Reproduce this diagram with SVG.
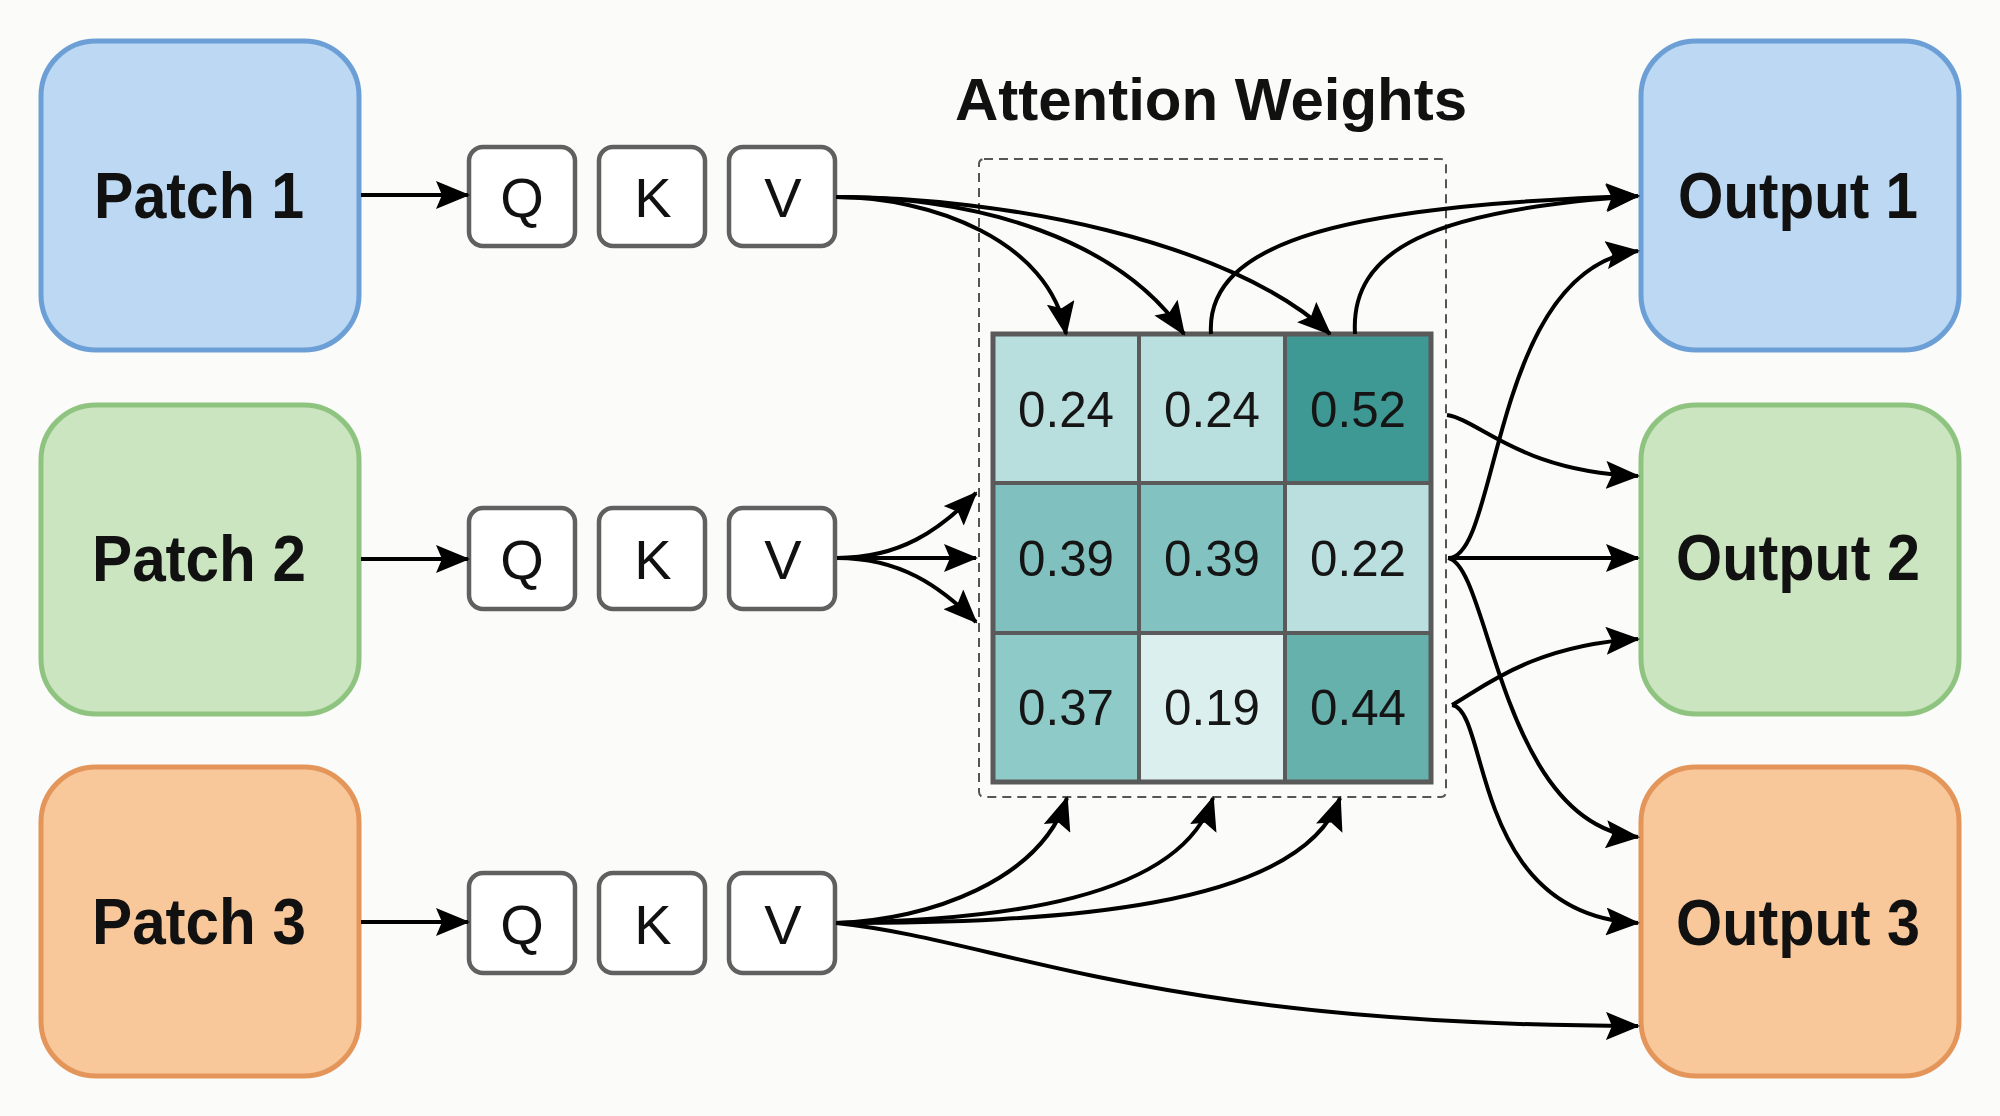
<svg xmlns="http://www.w3.org/2000/svg" width="2000" height="1116" viewBox="0 0 2000 1116">
<defs>
<style>
.bg{fill:#fbfbf9}
.blue{fill:#bcd8f3;stroke:#6c9fd6;stroke-width:5}
.green{fill:#cce5c1;stroke:#8fc480;stroke-width:5}
.orange{fill:#f8c89b;stroke:#e4955a;stroke-width:5}
.lbl{font-family:"Liberation Sans",Arial,sans-serif;font-weight:bold;font-size:64px;fill:#111;text-anchor:middle}
.qkv{fill:#fff;stroke:#606060;stroke-width:4.5}
.qt{font-family:"Liberation Sans",Arial,sans-serif;font-size:56px;fill:#111;text-anchor:middle}
.num{font-family:"Liberation Sans",Arial,sans-serif;font-size:50px;fill:#151515;text-anchor:middle}
.title{font-family:"Liberation Sans",Arial,sans-serif;font-weight:bold;font-size:60px;fill:#111;text-anchor:middle}
.cn{fill:none;stroke:#000;stroke-width:4;marker-end:url(#arr)}
.grid{fill:none;stroke:#5a5a5a}
</style>
<marker id="arr" markerUnits="userSpaceOnUse" markerWidth="34" markerHeight="28" viewBox="0 0 34 28" refX="32" refY="14" orient="auto">
<path d="M0,0 L34,14 L0,28 L6,14 z" fill="#000"/>
</marker>
</defs>
<rect class="bg" x="0" y="0" width="2000" height="1116"/>

<g id="patch1"><rect class="blue" x="41" y="41" width="318" height="309" rx="55"/><text class="lbl" x="199" y="218" textLength="210" lengthAdjust="spacingAndGlyphs">Patch 1</text></g>
<g id="patch2"><rect class="green" x="41" y="405" width="318" height="309" rx="55"/><text class="lbl" x="199" y="581" textLength="214" lengthAdjust="spacingAndGlyphs">Patch 2</text></g>
<g id="patch3"><rect class="orange" x="41" y="767" width="318" height="309" rx="55"/><text class="lbl" x="199" y="944" textLength="214" lengthAdjust="spacingAndGlyphs">Patch 3</text></g>

<g id="q1"><rect class="qkv" x="469" y="147" width="106" height="99" rx="14"/><text class="qt" x="522" y="217">Q</text></g>
<g id="k1"><rect class="qkv" x="599" y="147" width="106" height="99" rx="14"/><text class="qt" x="653" y="217">K</text></g>
<g id="v1"><rect class="qkv" x="729" y="147" width="106" height="99" rx="14"/><text class="qt" x="783" y="217">V</text></g>

<g id="q2"><rect class="qkv" x="469" y="508" width="106" height="101" rx="14"/><text class="qt" x="522" y="579">Q</text></g>
<g id="k2"><rect class="qkv" x="599" y="508" width="106" height="101" rx="14"/><text class="qt" x="653" y="579">K</text></g>
<g id="v2"><rect class="qkv" x="729" y="508" width="106" height="101" rx="14"/><text class="qt" x="783" y="579">V</text></g>

<g id="q3"><rect class="qkv" x="469" y="873" width="106" height="100" rx="14"/><text class="qt" x="522" y="944">Q</text></g>
<g id="k3"><rect class="qkv" x="599" y="873" width="106" height="100" rx="14"/><text class="qt" x="653" y="944">K</text></g>
<g id="v3"><rect class="qkv" x="729" y="873" width="106" height="100" rx="14"/><text class="qt" x="783" y="944">V</text></g>

<g id="attention">
<text class="title" x="1211" y="120">Attention Weights</text>
<rect x="979" y="159" width="467" height="638" rx="5" fill="none" stroke="#555" stroke-width="2" stroke-dasharray="9,6"/>
<rect x="993" y="334" width="146" height="149" fill="#b8dedd"/>
<rect x="1139" y="334" width="146" height="149" fill="#b9dfde"/>
<rect x="1285" y="334" width="146" height="149" fill="#3e9894"/>
<rect x="993" y="483" width="146" height="150" fill="#80c1bf"/>
<rect x="1139" y="483" width="146" height="150" fill="#82c2c0"/>
<rect x="1285" y="483" width="146" height="150" fill="#bbdfdf"/>
<rect x="993" y="633" width="146" height="149" fill="#8ecac8"/>
<rect x="1139" y="633" width="146" height="149" fill="#dbefee"/>
<rect x="1285" y="633" width="146" height="149" fill="#67b1ad"/>
<path class="grid" stroke-width="4" d="M1139,334 V782 M1285,334 V782 M993,483 H1431 M993,633 H1431"/>
<rect class="grid" stroke-width="5" x="993" y="334" width="438" height="448"/>
<text class="num" x="1066" y="427" textLength="96" lengthAdjust="spacingAndGlyphs">0.24</text>
<text class="num" x="1212" y="427" textLength="96" lengthAdjust="spacingAndGlyphs">0.24</text>
<text class="num" x="1358" y="427" textLength="96" lengthAdjust="spacingAndGlyphs">0.52</text>
<text class="num" x="1066" y="576" textLength="96" lengthAdjust="spacingAndGlyphs">0.39</text>
<text class="num" x="1212" y="576" textLength="96" lengthAdjust="spacingAndGlyphs">0.39</text>
<text class="num" x="1358" y="576" textLength="96" lengthAdjust="spacingAndGlyphs">0.22</text>
<text class="num" x="1066" y="725" textLength="96" lengthAdjust="spacingAndGlyphs">0.37</text>
<text class="num" x="1212" y="725" textLength="96" lengthAdjust="spacingAndGlyphs">0.19</text>
<text class="num" x="1358" y="725" textLength="96" lengthAdjust="spacingAndGlyphs">0.44</text>
</g>

<g id="output1"><rect class="blue" x="1641" y="41" width="318" height="309" rx="55"/><text class="lbl" x="1798" y="218" textLength="240" lengthAdjust="spacingAndGlyphs">Output 1</text></g>
<g id="output2"><rect class="green" x="1641" y="405" width="318" height="309" rx="55"/><text class="lbl" x="1798" y="580" textLength="244" lengthAdjust="spacingAndGlyphs">Output 2</text></g>
<g id="output3"><rect class="orange" x="1641" y="767" width="318" height="309" rx="55"/><text class="lbl" x="1798" y="945" textLength="244" lengthAdjust="spacingAndGlyphs">Output 3</text></g>

<g id="connectors">
<path class="cn" d="M361,195 L468,195"/>
<path class="cn" d="M361,559 L468,559"/>
<path class="cn" d="M361,922 L468,922"/>
<path class="cn" d="M836,197 C930,197 1050,240 1066,334"/>
<path class="cn" d="M836,197 C980,197 1120,240 1184,334"/>
<path class="cn" d="M836,197 C1000,197 1230,240 1330,334"/>
<path class="cn" d="M1211,334 C1205,240 1350,205 1638,196"/>
<path class="cn" d="M1355,334 C1350,250 1430,210 1638,196"/>
<path class="cn" d="M837,558 C900,558 940,530 976,493"/>
<path class="cn" d="M837,558 L976,558"/>
<path class="cn" d="M837,558 C900,558 940,586 976,622"/>
<path class="cn" d="M836,923 C930,920 1040,880 1067,798"/>
<path class="cn" d="M836,923 C1000,920 1180,900 1213,798"/>
<path class="cn" d="M836,923 C1050,923 1300,910 1340,798"/>
<path class="cn" d="M836,923 C1000,940 1150,1025 1638,1026"/>
<path class="cn" d="M1447,415 C1480,420 1520,472 1638,476"/>
<path class="cn" d="M1448,558 L1638,558"/>
<path class="cn" d="M1448,558 C1500,560 1490,270 1638,251"/>
<path class="cn" d="M1448,558 C1490,565 1500,825 1638,837"/>
<path class="cn" d="M1452,705 C1480,690 1530,645 1638,639"/>
<path class="cn" d="M1452,705 C1490,710 1470,915 1638,923"/>
</g>
</svg>
